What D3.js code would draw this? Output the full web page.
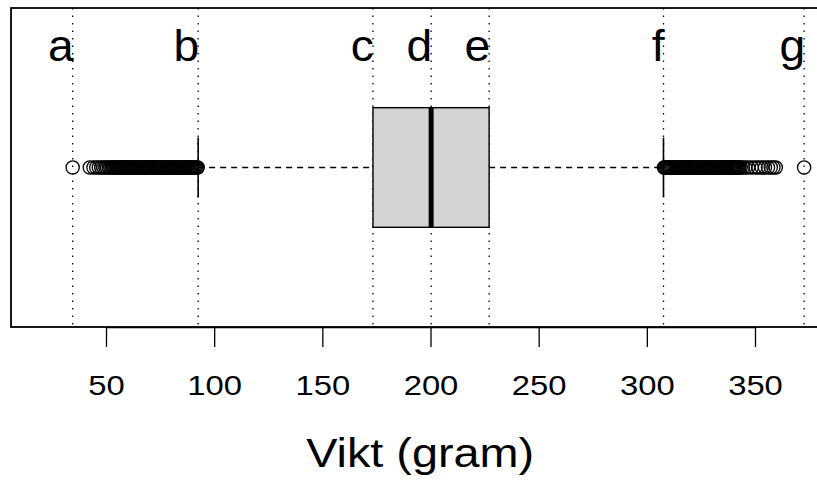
<!DOCTYPE html>
<html lang="en">
<head>
<meta charset="utf-8">
<title>Vikt boxplot</title>
<style>
body { margin: 0; background: #ffffff; }
svg text { font-family: "Liberation Sans", Arial, sans-serif; fill: #000; }
.axis path, .axis line { stroke: #000; stroke-width: 1.3px; fill: none; }
</style>
</head>
<body>
<div id="chart"></div>
<script src="https://d3js.org/d3.v7.min.js"></script>
<script>

// marker labels and the values they point at (min, lower whisker, Q1, median, Q3, upper whisker, max)
var markerLabels = ['a', 'b', 'c', 'd', 'e', 'f', 'g'];
var markerValues = [34.6, 92.6, 173.4, 200.3, 227.1, 307.7, 372.7];

var boxStats = { lowWhisker: 92.6, q1: 173.4, median: 200.3, q3: 227.1, highWhisker: 307.7 };

var tickValues = [50, 100, 150, 200, 250, 300, 350];

var lowOutliers = [34.6, 42.5, 44.2, 45.5, 46.7, 47.8, 48.8, 49.7, 50.5, 51.3, 52.0, 52.7, 53.3, 53.9, 54.5,
  55.0, 55.5, 56.0, 56.5, 57.0, 57.5, 58.0, 58.5, 59.0, 59.5, 60.0, 60.5, 61.0, 61.5, 62.0, 62.5,
  63.0, 63.5, 64.0, 64.5, 65.0, 65.5, 66.0, 66.5, 67.0, 67.5, 68.0, 68.5, 69.0, 69.5, 70.0, 70.5,
  71.0, 71.5, 72.0, 72.5, 73.0, 73.5, 74.0, 74.5, 75.0, 75.5, 76.0, 76.5, 77.0, 77.5, 78.0, 78.5,
  79.0, 79.5, 80.0, 80.5, 81.0, 81.5, 82.0, 82.5, 83.0, 83.5, 84.0, 84.5, 85.0, 85.5, 86.0, 86.5,
  87.0, 87.5, 88.0, 88.5, 89.0, 89.5, 90.0, 90.5, 91.0, 91.5, 92.0, 92.4];

var highOutliers = [307.9, 308.3, 308.8, 309.3, 309.8, 310.3, 310.8, 311.3, 311.8, 312.3, 312.8,
  313.3, 313.8, 314.3, 314.8, 315.3, 315.8, 316.3, 316.8, 317.3, 317.8, 318.3, 318.8, 319.3, 319.8,
  320.3, 320.8, 321.3, 321.8, 322.3, 322.8, 323.3, 323.8, 324.3, 324.8, 325.3, 325.8, 326.3, 326.8,
  327.3, 327.8, 328.3, 328.8, 329.3, 329.8, 330.3, 330.8, 331.3, 331.8, 332.3, 332.8, 333.3, 333.8,
  334.3, 334.8, 335.3, 335.8, 336.3, 336.8, 337.3, 337.8, 338.3, 338.8, 339.3, 339.8, 340.3, 340.8,
  341.3, 341.8, 342.3, 342.8, 343.4, 344.4, 345.5, 346.8, 348.5, 350.2, 351.6, 353.1, 354.6, 356.0,
  357.3, 358.5, 359.6, 372.7];

var xLimits = [6.1, 384.5];
var yLimits = [0.4, 1.6];

var width = 817, height = 483;
var stretch = 'scale(1.17,1)';

var xS = d3.scaleLinear().domain([50, 350]).range([106, 755]);
var yS = d3.scaleLinear().domain(yLimits).range([327, 8]);

var svg = d3.select('#chart')
  .append('svg')
  .attr('width', width)
  .attr('height', height);

// plot frame
svg.append('rect')
  .attr('x', xS(xLimits[0]))
  .attr('y', yS(yLimits[1]))
  .attr('width', xS(xLimits[1]) - xS(xLimits[0]))
  .attr('height', yS(yLimits[0]) - yS(yLimits[1]))
  .style('fill', 'none')
  .style('stroke', '#000')
  .style('stroke-width', 1.8);

// dotted marker lines
svg.selectAll('line.marker')
  .data(markerValues)
  .enter()
  .append('line')
  .attr('class', 'marker')
  .attr('x1', function(d) { return xS(d); })
  .attr('x2', function(d) { return xS(d); })
  .attr('y1', yS(yLimits[1]))
  .attr('y2', yS(yLimits[0]))
  .style('stroke', '#000')
  .style('stroke-width', 1.3)
  .style('stroke-dasharray', '1.5,6');

var mid = 1, half = 0.225, stapleHalf = 0.1125;

// whiskers
svg.selectAll('line.whisker')
  .data([[boxStats.lowWhisker, boxStats.q1], [boxStats.q3, boxStats.highWhisker]])
  .enter()
  .append('line')
  .attr('class', 'whisker')
  .attr('x1', function(d) { return xS(d[0]); })
  .attr('x2', function(d) { return xS(d[1]); })
  .attr('y1', yS(mid))
  .attr('y2', yS(mid))
  .style('stroke', '#000')
  .style('stroke-width', 1.4)
  .style('stroke-dasharray', '6,5');

svg.selectAll('line.staple')
  .data([boxStats.lowWhisker, boxStats.highWhisker])
  .enter()
  .append('line')
  .attr('class', 'staple')
  .attr('x1', function(d) { return xS(d); })
  .attr('x2', function(d) { return xS(d); })
  .attr('y1', yS(mid + stapleHalf))
  .attr('y2', yS(mid - stapleHalf))
  .style('stroke', '#000')
  .style('stroke-width', 1.6);

// box
svg.append('rect')
  .attr('x', xS(boxStats.q1))
  .attr('y', yS(mid + half))
  .attr('width', xS(boxStats.q3) - xS(boxStats.q1))
  .attr('height', yS(mid - half) - yS(mid + half))
  .style('fill', '#d3d3d3')
  .style('stroke', '#000')
  .style('stroke-width', 1.4);

svg.append('line')
  .attr('x1', xS(boxStats.median))
  .attr('x2', xS(boxStats.median))
  .attr('y1', yS(mid + half))
  .attr('y2', yS(mid - half))
  .style('stroke', '#000')
  .style('stroke-width', 5);

// outliers
svg.selectAll('circle')
  .data(lowOutliers.concat(highOutliers))
  .enter()
  .append('circle')
  .attr('cx', function(d) { return xS(d); })
  .attr('cy', yS(mid))
  .attr('r', 6.6)
  .style('fill', 'none')
  .style('stroke', '#000')
  .style('stroke-width', 1.3);

// letters
svg.selectAll('text.marker')
  .data(markerValues)
  .enter()
  .append('text')
  .attr('class', 'marker')
  .attr('transform', function(d) { return 'translate(' + (xS(d) + 1) + ',' + yS(1.4) + ') scale(1.05,1)'; })
  .style('text-anchor', 'end')
  .style('font-size', '44px')
  .text(function(d, i) { return markerLabels[i]; });

// x axis
var axis = svg.append('g')
  .attr('class', 'axis')
  .attr('transform', 'translate(0,' + yS(yLimits[0]) + ')')
  .call(d3.axisBottom(xS).tickValues(tickValues).tickSizeInner(20).tickSizeOuter(0).tickFormat(d3.format('d')));

axis.selectAll('text')
  .attr('y', 68)
  .attr('dy', 0)
  .attr('transform', stretch)
  .style('font-size', '28px')
  .style('font-family', '"Liberation Sans", Arial, sans-serif')
  .style('fill', '#000');

svg.append('text')
  .attr('transform', 'translate(' + xS(195.2) + ',467) ' + stretch)
  .style('text-anchor', 'middle')
  .style('font-size', '40px')
  .text('Vikt (gram)');

</script>
</body>
</html>
